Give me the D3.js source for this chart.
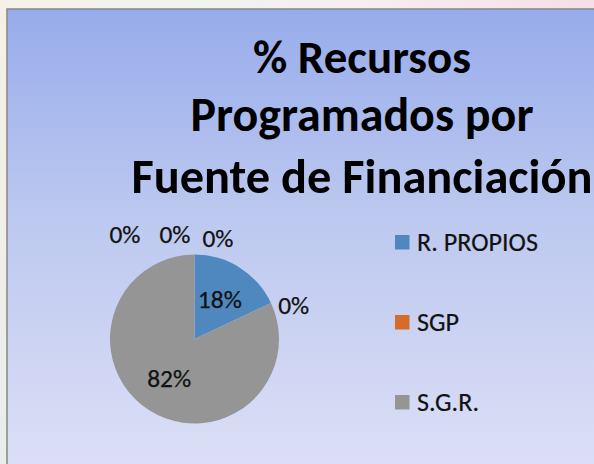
<!DOCTYPE html>
<html>
<head>
<meta charset="utf-8">
<script src="https://cdn.jsdelivr.net/npm/d3@7"></script>
<style>
  html, body { margin: 0; padding: 0; background: #f6f3ee; }
  svg { display: block; }
</style>
</head>
<body>
<svg id="chart" width="594" height="464"></svg>
<script>
// Funding sources and their share of programmed resources (%)
const categories = ["R. PROPIOS", "SGP", "S.G.R."];
const shares = [18, 0, 82];
// Three further zero-valued series that carry labels but no legend entry
const extraShares = [0, 0, 0];
const colors = ["#4f88bf", "#d66c2c", "#959595"];
const titleLines = ["% Recursos", "Programados por", "Fuente de Financiación"];

const values = shares.concat(extraShares);
const font = "Carlito, Lato, 'Open Sans', sans-serif";

const svg = d3.select("#chart");
const W = 594, H = 464;

// Page background strip and chart frame
const defs = svg.append("defs");
const topStrip = defs.append("linearGradient").attr("id", "stripTop")
  .attr("x1", 0).attr("x2", 1).attr("y1", 0).attr("y2", 0);
topStrip.append("stop").attr("offset", 0).attr("stop-color", "#f6f1e8");
topStrip.append("stop").attr("offset", 0.35).attr("stop-color", "#f1f3ef");
topStrip.append("stop").attr("offset", 0.6).attr("stop-color", "#f7eef0");
topStrip.append("stop").attr("offset", 1).attr("stop-color", "#f6dfe6");
const leftStrip = defs.append("linearGradient").attr("id", "stripLeft")
  .attr("x1", 0).attr("x2", 0).attr("y1", 0).attr("y2", 1);
leftStrip.append("stop").attr("offset", 0).attr("stop-color", "#f7f0e4");
leftStrip.append("stop").attr("offset", 1).attr("stop-color", "#e9eeec");
const plotBg = defs.append("linearGradient").attr("id", "plotBg")
  .attr("x1", 0).attr("x2", 0).attr("y1", 0).attr("y2", 1);
plotBg.append("stop").attr("offset", 0).attr("stop-color", "#97aceb");
plotBg.append("stop").attr("offset", 0.45).attr("stop-color", "#bcc8ef");
plotBg.append("stop").attr("offset", 1).attr("stop-color", "#dcdff6");

svg.append("rect").attr("x", 0).attr("y", 0).attr("width", W).attr("height", H)
  .attr("fill", "url(#stripLeft)");
svg.append("rect").attr("x", 0).attr("y", 0).attr("width", W).attr("height", 9)
  .attr("fill", "url(#stripTop)");

const frame = { x: 7, y: 9, w: W - 7 + 2, h: H - 9 + 2 };
svg.append("rect")
  .attr("x", frame.x).attr("y", frame.y)
  .attr("width", frame.w).attr("height", frame.h)
  .attr("fill", "url(#plotBg)")
  .attr("stroke", "#8c8c8c").attr("stroke-width", 1.6);

// Fit a text element's font size to a target width
function fitWidth(sel, target, startSize) {
  sel.attr("font-size", startSize);
  const w = sel.node().getComputedTextLength();
  sel.attr("font-size", startSize * target / w);
}

// Title
const titleCx = 362;
const titleBaselines = [73, 131, 193];
const titleWidths = [218, 343, 461];
titleLines.forEach((t, i) => {
  const el = svg.append("text")
    .attr("x", titleCx).attr("y", titleBaselines[i])
    .attr("text-anchor", "middle")
    .attr("font-family", font).attr("font-weight", "bold")
    .attr("fill", "#000").text(t);
  fitWidth(el, titleWidths[i], 36);
});

// Pie
const cx = 194.5, cy = 339, r = 84.5;
const pie = d3.pie().sort(null).value(d => d);
const arcs = pie(values);
const arc = d3.arc().innerRadius(0).outerRadius(r);
const labelArc = d3.arc().innerRadius(r * 0.56).outerRadius(r * 0.56);

const g = svg.append("g").attr("transform", `translate(${cx},${cy})`);
g.selectAll("path.slice")
  .data(arcs.filter(a => a.value > 0))
  .join("path")
  .attr("class", "slice")
  .attr("d", arc)
  .attr("fill", a => colors[a.index]);

// Data labels: non-zero shares sit inside their slice, zero shares just outside the rim
const labelText = g.append("g")
  .attr("font-family", font).attr("fill", "#111")
  .attr("stroke", "#111").attr("stroke-width", 0.25);
const zeroTop = [];
arcs.forEach(a => {
  const txt = d3.format(".0f")(a.value) + "%";
  if (a.value > 0) {
    const [x, y] = labelArc.centroid(a);
    const el = labelText.append("text")
      .attr("x", x).attr("y", y)
      .attr("text-anchor", "middle").attr("dominant-baseline", "central")
      .text(txt);
    fitWidth(el, 44, 24);
  } else {
    const ang = a.startAngle;
    const rr = r + 8;
    const px = rr * Math.sin(ang), py = -rr * Math.cos(ang);
    const el = labelText.append("text").text(txt);
    fitWidth(el, 31, 24);
    if (Math.abs(Math.sin(ang)) > 0.3) {
      el.attr("x", px).attr("y", py + 14).attr("text-anchor", "start");
    } else {
      zeroTop.push(el);
    }
  }
});
// Zero labels gathered at the top of the pie are stacked leftwards
let right = null;
for (let i = zeroTop.length - 1; i >= 0; i--) {
  const el = zeroTop[i];
  if (right === null) {
    el.attr("x", 8).attr("y", -r - 8).attr("text-anchor", "start");
    right = 8 - 12;
  } else {
    el.attr("x", right).attr("y", -r - 12).attr("text-anchor", "end");
    right = right - 31 - 19;
  }
}

// Legend
const legend = svg.append("g").attr("transform", "translate(395,235)")
  .attr("font-family", font).attr("fill", "#111")
  .attr("stroke", "#111").attr("stroke-width", 0.2);
const legendStep = 80;
let legendSize = 22;
categories.forEach((c, i) => {
  const row = legend.append("g").attr("transform", `translate(0,${i * legendStep})`);
  row.append("rect").attr("width", 14.5).attr("height", 14.5)
    .attr("fill", colors[i]).attr("stroke", "none");
  const t = row.append("text").attr("x", 22).attr("y", 16).text(c);
  if (i === 0) {
    fitWidth(t, 121, 22);
    legendSize = +t.attr("font-size");
  } else {
    t.attr("font-size", legendSize);
  }
});
</script>
</body>
</html>
